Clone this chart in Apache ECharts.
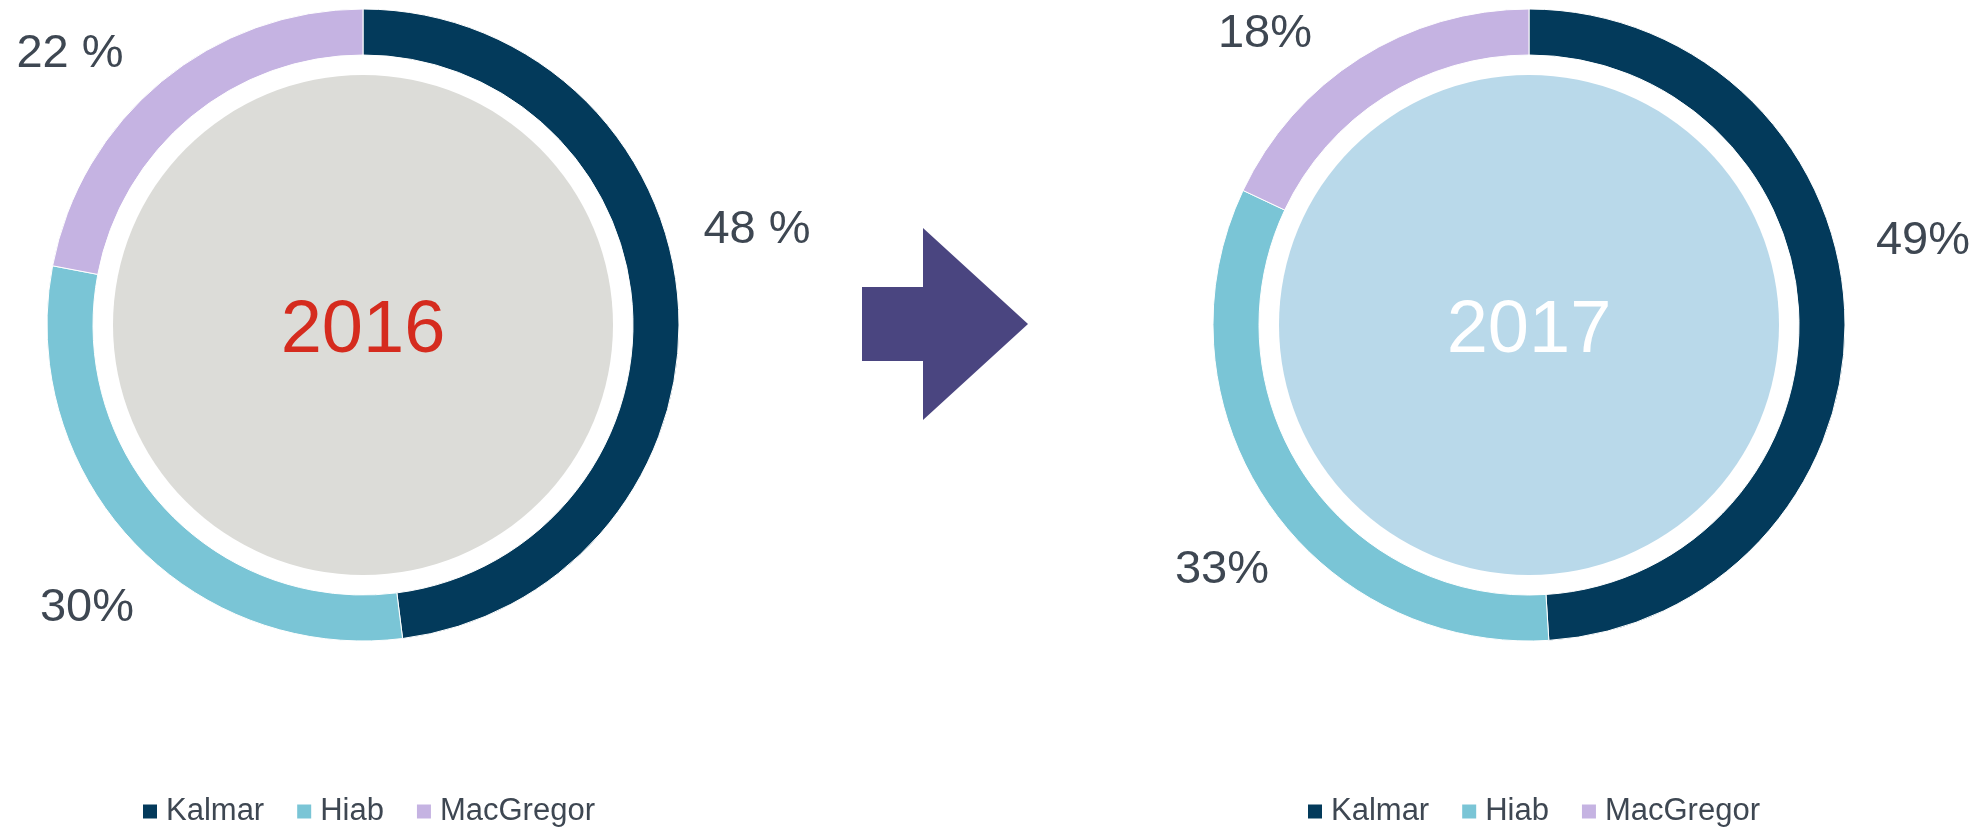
<!DOCTYPE html>
<html>
<head>
<meta charset="utf-8">
<script src="https://cdn.jsdelivr.net/npm/echarts@6/dist/echarts.min.js"></script>
<style>
  html, body { margin: 0; padding: 0; background: #ffffff; }
  #chart { width: 1988px; height: 829px; }
</style>
</head>
<body>
<div id="chart"></div>
<script>
// Segment share of sales, two years side by side
const segments = ['Kalmar', 'Hiab', 'MacGregor'];
const years = ['2016', '2017'];
const share2016 = [48, 30, 22];
const share2017 = [49, 33, 18];
// spacing between number and percent sign, as printed on each label
const pctSpacing2016 = [' ', '', ' '];
const pctSpacing2017 = ['', '', ''];

// ---- styling / layout ----
const FONT = 'Liberation Sans, Arial, sans-serif';
const TEXT_COLOR = '#3e4752';
const SEGMENT_COLORS = ['#033a5b', '#7ac5d6', '#c5b3e2'];
const DISC_COLORS = ['#dcdcd8', '#b9d9ea'];
const YEAR_COLORS = ['#d52b1e', '#ffffff'];
const CENTERS = [[363, 325], [1529, 325]];
const RING_RADIUS = [270, 316];
const DISC_RADIUS = 250;
// label text centres for each slice
const LABEL_SPOTS = [
  [[757, 226], [87, 604], [70, 50]],
  [[1923, 237], [1222, 566], [1265, 30]]
];
// digits sit slightly below the middle of the text box
const GLYPH_SHIFT = 4;
const LEGEND_LEFT = [136, 1301];

const shares = [share2016, share2017];
const spacings = [pctSpacing2016, pctSpacing2017];

const series = [];
years.forEach((year, i) => {
  // coloured disc with the year in the middle
  series.push({
    type: 'pie',
    name: year + ' disc',
    center: CENTERS[i],
    radius: [0, DISC_RADIUS],
    silent: true,
    animation: false,
    emphasis: { disabled: true },
    labelLine: { show: false },
    label: {
      show: true,
      position: 'center',
      formatter: year,
      fontFamily: FONT,
      fontSize: 74,
      color: YEAR_COLORS[i],
      offset: [0, 7]
    },
    itemStyle: { color: DISC_COLORS[i] },
    data: [{ value: 1, name: year }]
  });
  // segment ring
  series.push({
    type: 'pie',
    name: year,
    center: CENTERS[i],
    radius: RING_RADIUS,
    startAngle: 90,
    clockwise: true,
    animation: false,
    avoidLabelOverlap: false,
    emphasis: { disabled: true },
    itemStyle: { borderColor: '#ffffff', borderWidth: 1 },
    labelLine: { show: false },
    label: {
      show: true,
      position: 'outside',
      fontFamily: FONT,
      fontSize: 47,
      color: TEXT_COLOR,
      formatter: p => p.value + spacings[i][p.dataIndex] + '%'
    },
    labelLayout: p => ({
      x: LABEL_SPOTS[i][p.dataIndex][0],
      y: LABEL_SPOTS[i][p.dataIndex][1] + GLYPH_SHIFT,
      align: 'center',
      verticalAlign: 'middle'
    }),
    data: segments.map((name, k) => ({
      name: name,
      value: shares[i][k],
      itemStyle: { color: SEGMENT_COLORS[k] }
    }))
  });
});

const legends = years.map((year, i) => ({
  data: segments,
  left: LEGEND_LEFT[i],
  top: 791,
  orient: 'horizontal',
  icon: 'rect',
  itemWidth: 16,
  itemHeight: 16,
  itemGap: 31,
  selectedMode: false,
  textStyle: {
    fontFamily: FONT,
    fontSize: 31,
    color: TEXT_COLOR,
    padding: [0, 0, 0, 3]
  }
}));

const chart = echarts.init(document.getElementById('chart'), null, { renderer: 'canvas' });
chart.setOption({
  backgroundColor: '#ffffff',
  color: SEGMENT_COLORS,
  textStyle: { fontFamily: FONT },
  legend: legends,
  series: series,
  graphic: [{
    // block arrow between the two years
    type: 'polygon',
    silent: true,
    shape: {
      points: [[862, 287], [923, 287], [923, 228], [1028, 324],
               [923, 420], [923, 361], [862, 361]]
    },
    style: { fill: '#4a4580' }
  }]
});
</script>
</body>
</html>
